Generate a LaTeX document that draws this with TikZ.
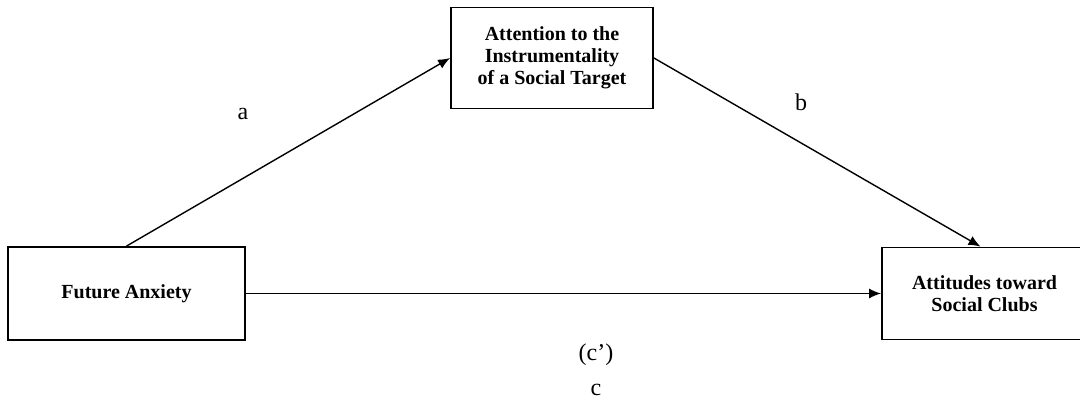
\documentclass[tikz,border=0pt]{standalone}
\usepackage{fontspec}
\setmainfont{Liberation Serif}
\usetikzlibrary{arrows.meta}
\begin{document}
\begin{tikzpicture}[x=0.5pt,y=-0.5pt,
    var/.style={draw,line width=0.9pt,align=center,inner sep=0pt,
      font=\bfseries\fontsize{10}{10.9}\selectfont},
    path/.style={-{Latex[length=6pt,width=5pt]},line width=0.7pt},
    lbl/.style={font=\fontsize{12}{14}\selectfont}]
  \useasboundingbox (0,0) rectangle (1080,405);
  \clip (0,0) rectangle (1080,405);
  % variables
  \node[var,minimum width=101pt,minimum height=50.5pt] (med) at (552,58) {Attention to the\\Instrumentality\\of a Social Target};
  \node[var,minimum width=118.5pt,minimum height=46.5pt] (iv) at (126.5,293.5) {Future Anxiety};
  \node[var,minimum width=102.5pt,minimum height=46pt] (dv) at (984.5,293.5) {Attitudes toward\\Social Clubs};
  % paths
  \draw[path] (iv.north) -- (med.west);
  \draw[path] (med.east) -- ([xshift=-2pt]dv.north);
  \draw[path] (iv.east) -- (dv.west);
  % labels
  \node[lbl] (la) at (243,114) {a};
  \node[lbl] (lb) at (801,102) {b};
  \node[lbl] (lc1) at (596,355) {(c’)};
  \node[lbl] (lc) at (596,390) {c};
\end{tikzpicture}
\end{document}
